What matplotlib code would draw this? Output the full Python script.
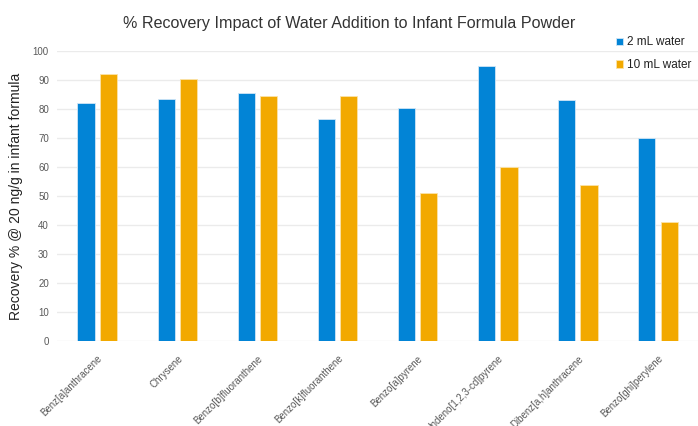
import matplotlib
matplotlib.use("Agg")
import matplotlib.pyplot as plt
import numpy as np

plt.rcParams['font.family'] = ['Liberation Sans', 'DejaVu Sans']

compounds = [
    "Benz[a]anthracene", "Chrysene", "Benzo[b]fluoranthene", "Benzo[k]fluoranthene",
    "Benzo[a]pyrene", "Indeno[1,2,3-cd]pyrene", "Dibenz[a,h]anthracene", "Benzo[ghi]perylene",
]
water_2ml = [82.0, 83.6, 85.6, 76.7, 80.3, 94.8, 83.1, 70.0]
water_10ml = [92.2, 90.3, 84.6, 84.6, 50.9, 59.9, 53.9, 40.9]
yticks = list(range(0, 101, 10))

blue = "#0284d6"
orange = "#f2a900"
text_gray = "#595959"

fig = plt.figure(figsize=(6.98, 4.26), dpi=100)
ax = fig.add_axes([0.082, 0.1995, 0.918, 0.6805])

x = np.arange(len(compounds))
w = 0.215
off = 0.14
ax.bar(x - off, water_2ml, w, color=blue, edgecolor="#cfe6f7", linewidth=0.6,
       label="2 mL water", zorder=3)
ax.bar(x + off, water_10ml, w, color=orange, edgecolor="#fbe3a8", linewidth=0.6,
       label="10 mL water", zorder=3)

ax.set_xlim(-0.5, len(compounds) - 0.5)
ax.set_ylim(0, 100)
ax.set_yticks(yticks)
ax.yaxis.grid(True, color="#ebebeb", linewidth=1.0, zorder=0)
ax.set_axisbelow(True)
for s in ax.spines.values():
    s.set_visible(False)
ax.tick_params(axis="both", length=0, colors=text_gray, labelsize=7)
ax.tick_params(axis="y", pad=6)
ax.set_xticks(x)
ax.set_xticklabels(compounds, rotation=45, ha="right", rotation_mode="anchor")
ax.tick_params(axis="x", pad=9)

ax.set_ylabel("Recovery % @ 20 ng/g in infant formula", fontsize=10, color="#222222", labelpad=7)

fig.text(0.5, 0.945, "% Recovery Impact of Water Addition to Infant Formula Powder",
         ha="center", va="center", fontsize=11.6, color="#333333")

leg = ax.legend(loc="upper right", bbox_to_anchor=(1.0, 1.075), frameon=False,
                fontsize=8.5, handlelength=0.6, handleheight=0.6, handletextpad=0.3,
                labelspacing=0.9, borderaxespad=0.2)
for t in leg.get_texts():
    t.set_color("#222222")

fig.savefig("out.png", dpi=100)
